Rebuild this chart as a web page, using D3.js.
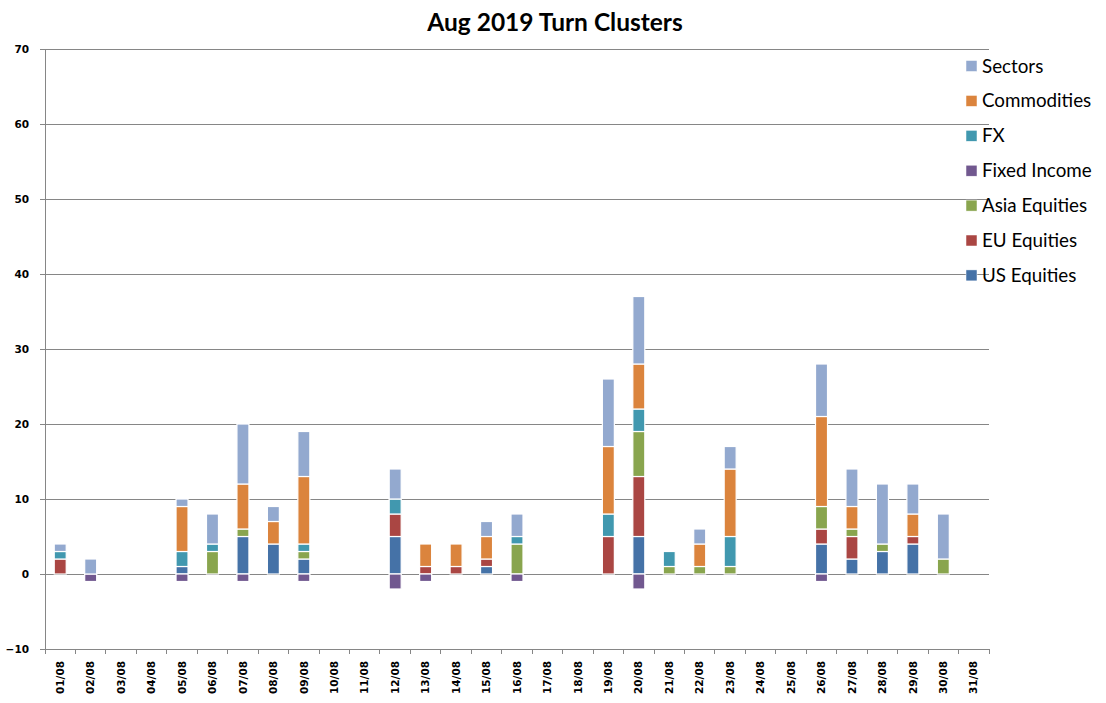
<!DOCTYPE html>
<html><head><meta charset="utf-8">
<script src="https://cdn.jsdelivr.net/npm/d3@7"></script>
<style>body{margin:0;background:#fff;} svg{display:block;}</style>
</head><body><svg id="c" width="1106" height="703"></svg>
<script>
const days = ["01/08","02/08","03/08","04/08","05/08","06/08","07/08","08/08","09/08","10/08","11/08","12/08","13/08","14/08","15/08","16/08","17/08","18/08","19/08","20/08","21/08","22/08","23/08","24/08","25/08","26/08","27/08","28/08","29/08","30/08","31/08"];
const usEquities   = [0,0,0,0,1,0,5,4,2,0,0,5,0,0,1,0,0,0,0,5,0,0,0,0,0,4,2,3,4,0,0];
const euEquities   = [2,0,0,0,0,0,0,0,0,0,0,3,1,1,1,0,0,0,5,8,0,0,0,0,0,2,3,0,1,0,0];
const asiaEquities = [0,0,0,0,0,3,1,0,1,0,0,0,0,0,0,4,0,0,0,6,1,1,1,0,0,3,1,1,0,2,0];
const fixedIncome  = [0,-1,0,0,-1,0,-1,0,-1,0,0,-2,-1,0,0,-1,0,0,0,-2,0,0,0,0,0,-1,0,0,0,0,0];
const fx           = [1,0,0,0,2,1,0,0,1,0,0,2,0,0,0,1,0,0,3,3,2,0,4,0,0,0,0,0,0,0,0];
const commodities  = [0,0,0,0,6,0,6,3,9,0,0,0,3,3,3,0,0,0,9,6,0,3,9,0,0,12,3,0,3,0,0];
const sectors      = [1,2,0,0,1,4,8,2,6,0,0,4,0,0,2,3,0,0,9,9,0,2,3,0,0,7,5,8,4,6,0];
const yTicks = [-10,0,10,20,30,40,50,60,70];

const seriesNames = ["US Equities","EU Equities","Asia Equities","Fixed Income","FX","Commodities","Sectors"];
const seriesData = [usEquities,euEquities,asiaEquities,fixedIncome,fx,commodities,sectors];
const colors = ["#4572A7","#AA4643","#89A54E","#71588F","#4198AF","#DB843D","#93A9CF"];

const svg = d3.select("#c");
const L = 45, R = 989, T = 49, B = 649;
const x = d3.scaleBand().domain(days).range([L, R]).paddingInner(0).paddingOuter(0);
const y = d3.scaleLinear().domain([-10, 70]).range([B, T]);
const bw = 12;

svg.append("g").selectAll("line").data(yTicks.filter(t => t > -10)).join("line")
  .attr("x1", L).attr("x2", R).attr("y1", d => y(d)).attr("y2", d => y(d))
  .attr("stroke", "#868686").attr("stroke-width", 1).attr("shape-rendering","crispEdges");

days.forEach((d, i) => {
  let pos = 0, neg = 0;
  seriesData.forEach((s, k) => {
    const v = s[i];
    if (!v) return;
    let y0, y1;
    if (v > 0) { y0 = pos; y1 = pos + v; pos = y1; }
    else { y0 = neg + v; y1 = neg; neg = y0; }
    svg.append("rect")
      .attr("x", x(d) + x.bandwidth()/2 - bw/2)
      .attr("width", bw)
      .attr("y", y(y1))
      .attr("height", y(y0) - y(y1))
      .attr("fill", colors[k])
      .attr("stroke", "#fff").attr("stroke-width", 1.2);
  });
});

const yAxis = d3.axisLeft(y).tickValues(yTicks).tickSize(5).tickPadding(11);
const gy = svg.append("g").attr("transform", `translate(${L},0)`).call(yAxis);
gy.select(".domain").attr("stroke", "#868686");
gy.selectAll(".tick line").attr("stroke", "#868686");
gy.selectAll("text").attr("font-family","DejaVu Sans").attr("font-weight","bold").attr("font-size", 10.5).attr("fill","#000");

const xAxis = d3.axisBottom(x).tickSize(0).tickSizeOuter(0);
const gx = svg.append("g").attr("transform", `translate(0,${B})`).call(xAxis);
gx.select(".domain").attr("stroke", "#868686");
gx.selectAll("text")
  .attr("font-family","DejaVu Sans").attr("font-weight","bold").attr("font-size", 10.5).attr("fill","#000")
  .attr("text-anchor","end").attr("dy","0.35em")
  .attr("transform","translate(0,12) rotate(-90)").attr("x",0).attr("y",0);
const bounds = days.map(d => x(d)).concat([R]);
svg.append("g").selectAll("line").data(bounds).join("line")
  .attr("x1", d => d).attr("x2", d => d).attr("y1", B).attr("y2", B + 5)
  .attr("stroke", "#868686").attr("shape-rendering","crispEdges");

svg.append("text").attr("x", 555).attr("y", 31).attr("text-anchor","middle")
  .attr("font-family","Lato").attr("font-weight","bold").attr("font-size", 24.5)
  .text("Aug 2019 Turn Clusters");

const leg = svg.append("g");
const order = [6,5,4,3,2,1,0];
order.forEach((k, j) => {
  const cy = 66 + j * 34.9;
  leg.append("rect").attr("x", 966).attr("y", cy - 5.5).attr("width", 11).attr("height", 11)
    .attr("fill", colors[k]).attr("stroke", "#fff").attr("stroke-width", 0.5);
  leg.append("text").attr("x", 982).attr("y", cy).attr("dy","0.35em")
    .attr("font-family","Lato").attr("font-size", 18.8).attr("fill","#000")
    .text(seriesNames[k]);
});
</script></body></html>
